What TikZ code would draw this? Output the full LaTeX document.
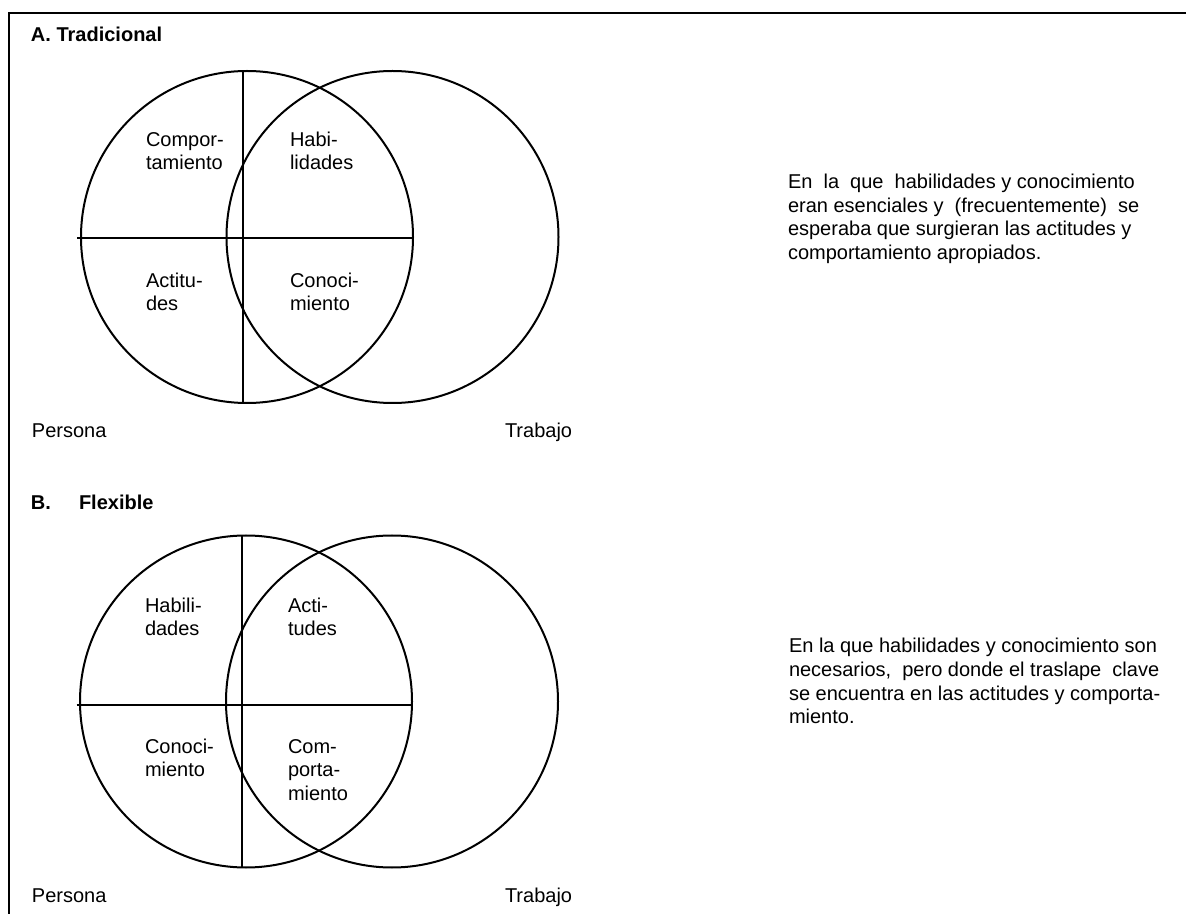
\documentclass[tikz,border=0pt]{standalone}
\usepackage{fontspec}
\setmainfont{Liberation Sans}
\begin{document}
\begin{tikzpicture}[x=0.5pt,y=-0.5pt,line width=1pt,
  lbl/.style={anchor=base west,inner sep=0pt,font=\fontsize{10pt}{12pt}\selectfont},
  ttl/.style={anchor=base west,inner sep=0pt,font=\fontsize{10pt}{12pt}\selectfont\bfseries},
  para/.style={anchor=base west,inner sep=0pt,font=\fontsize{10pt}{12pt}\selectfont},
  ring/.style={draw,circle,minimum size=166pt,inner sep=0pt}]
\useasboundingbox (0,0) rectangle (1195,914);
% frame
\draw (1186,13) -- (9,13) -- (9,914);
% ---------- A ----------
\node[ttl] (tA) at (30,42) {A. Tradicional};
\node[ring] (personaA) at (247,237) {};
\node[ring] (trabajoA) at (392.5,237) {};
\draw (243,71.05) -- (243,402.95);
\draw (77,238) -- (413,238);
\node[lbl] (a1) at (145,147) {Compor-};
\node[lbl] (a2) at (145,170) {tamiento};
\node[lbl] (a3) at (289,147) {Habi-};
\node[lbl] (a4) at (289,170) {lidades};
\node[lbl] (a5) at (145,288) {Actitu-};
\node[lbl] (a6) at (145,311) {des};
\node[lbl] (a7) at (289,288) {Conoci-};
\node[lbl] (a8) at (289,311) {miento};
\node[lbl] (perA) at (31,438) {Persona};
\node[lbl] (trA) at (504,438) {Trabajo};
\node[para] (pa1) at (787,189) {En~ la~ que~ habilidades y conocimiento};
\node[para] (pa2) at (787,212.5) {eran esenciales y~ (frecuentemente)~ se};
\node[para] (pa3) at (787,236) {esperaba que surgieran las actitudes y};
\node[para] (pa4) at (787,259.5) {comportamiento apropiados.};
% ---------- B ----------
\node[ttl] (tB1) at (30,510) {B.};
\node[ttl] (tB2) at (78,510) {Flexible};
\node[ring] (personaB) at (246,701.5) {};
\node[ring] (trabajoB) at (392,701.5) {};
\draw (242,535.55) -- (242,867.45);
\draw (76.5,705) -- (412,705);
\node[lbl] (b1) at (144,612) {Habili-};
\node[lbl] (b2) at (144,636) {dades};
\node[lbl] (b3) at (287,612) {Acti-};
\node[lbl] (b4) at (287,636) {tudes};
\node[lbl] (b5) at (144,753) {Conoci-};
\node[lbl] (b6) at (144,776) {miento};
\node[lbl] (b7) at (287,753) {Com-};
\node[lbl] (b8) at (287,776) {porta-};
\node[lbl] (b9) at (287,800) {miento};
\node[lbl] (perB) at (31,902) {Persona};
\node[lbl] (trB) at (504,902) {Trabajo};
\node[para] (pb1) at (788,653) {En la que habilidades y conocimiento son};
\node[para] (pb2) at (788,676.5) {necesarios,~ pero donde el traslape~ clave};
\node[para] (pb3) at (788,700) {se encuentra en las actitudes y comporta-};
\node[para] (pb4) at (788,723.5) {miento.};
\end{tikzpicture}
\end{document}
